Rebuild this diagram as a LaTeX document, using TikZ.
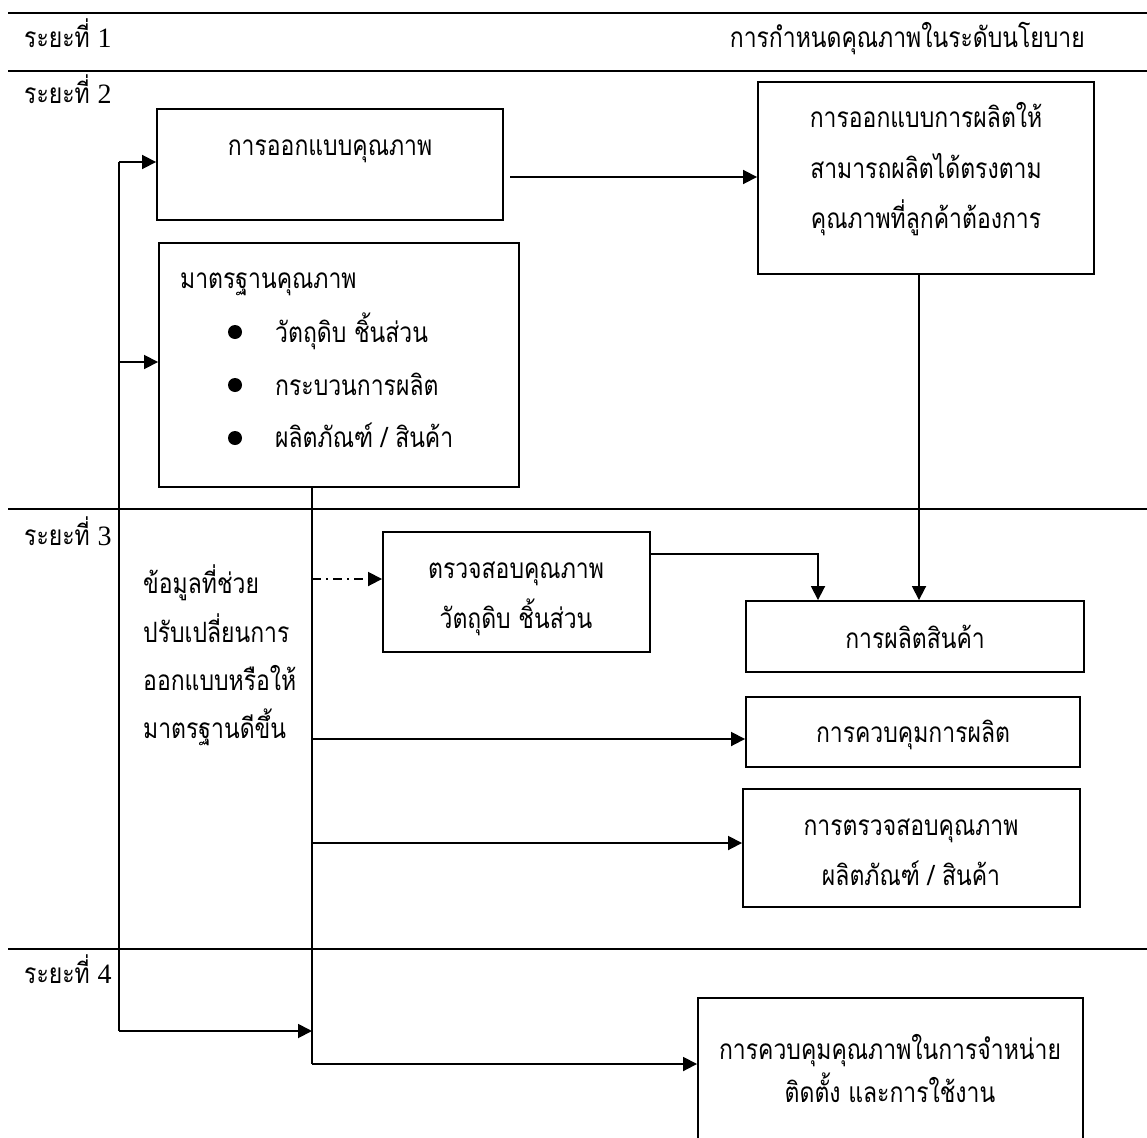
\documentclass[tikz,border=0pt]{standalone}
\usepackage{fontspec}
\setmainfont{Liberation Serif}
\newfontfamily\thai[Script=Thai,FakeStretch=0.82]{Loma}
\usetikzlibrary{arrows.meta}

\tikzset{
  box/.style={draw, rectangle, line width=1.9pt, inner sep=0pt},
  sep/.style={line width=2.8pt},
  conn/.style={line width=1.8pt},
  arr/.style={conn, -{Triangle[length=14pt,width=14pt]}},
  dashdotarr/.style={arr, dash pattern=on 9pt off 5pt on 2pt off 5pt},
  txt/.style={font=\thai\fontsize{28}{30}\selectfont, inner sep=0pt, anchor=base},
  ltxt/.style={txt, anchor=base west},
  bullet/.style={circle, fill, inner sep=0pt, minimum size=14pt},
}

\begin{document}
\begin{tikzpicture}[x=1pt, y=-1pt]
\useasboundingbox (0,0) rectangle (1147,1137);
\clip (0,0) rectangle (1147,1137);

% phase separators
\draw[sep] (8,13) -- (1147,13);
\draw[sep] (8,71) -- (1147,71);
\draw[sep] (8,509) -- (1147,509);
\draw[sep] (8,949) -- (1147,949);

% phase labels
\node[ltxt] (p1) at (24,48) {ระยะที่ \rmfamily 1};
\node[ltxt] (p2) at (24,104) {ระยะที่ \rmfamily 2};
\node[ltxt] (p3) at (24,545) {ระยะที่ \rmfamily 3};
\node[ltxt] (p4) at (24,983) {ระยะที่ \rmfamily 4};
\node[txt, anchor=base east] (policy) at (1085,48) {การกำหนดคุณภาพในระดับนโยบาย};

% boxes
\node[box, minimum width=346pt, minimum height=111pt] (A) at (330,164.5) {};
\node[box, minimum width=360pt, minimum height=244pt] (B) at (339,365) {};
\node[box, minimum width=336pt, minimum height=192pt] (C) at (926,178) {};
\node[box, minimum width=267pt, minimum height=120pt] (D) at (516.5,592) {};
\node[box, minimum width=338pt, minimum height=71pt]  (E) at (915,636.5) {};
\node[box, minimum width=334pt, minimum height=70pt]  (F) at (913,732) {};
\node[box, minimum width=337pt, minimum height=118pt] (G) at (911.5,848) {};
\node[box, minimum width=385pt, minimum height=182pt] (H) at (890.5,1089) {};

% box texts
\node[txt] (tA) at (330,155) {การออกแบบคุณภาพ};

\node[ltxt] (tB0) at (180,288) {มาตรฐานคุณภาพ};
\node[bullet] (b1) at (235,332) {};
\node[bullet] (b2) at (235,385) {};
\node[bullet] (b3) at (235,438) {};
\node[ltxt] (tB1) at (275,342) {วัตถุดิบ ชิ้นส่วน};
\node[ltxt] (tB2) at (275,395) {กระบวนการผลิต};
\node[ltxt] (tB3) at (275,447) {ผลิตภัณฑ์ / สินค้า};

\node[txt] (tC1) at (926,128) {การออกแบบการผลิตให้};
\node[txt] (tC2) at (926,178) {สามารถผลิตได้ตรงตาม};
\node[txt] (tC3) at (926,228) {คุณภาพที่ลูกค้าต้องการ};

\node[txt] (tD1) at (516,578) {ตรวจสอบคุณภาพ};
\node[txt] (tD2) at (516,628) {วัตถุดิบ ชิ้นส่วน};

\node[ltxt] (f1) at (143,593) {ข้อมูลที่ช่วย};
\node[ltxt] (f2) at (143,642) {ปรับเปลี่ยนการ};
\node[ltxt] (f3) at (143,690) {ออกแบบหรือให้};
\node[ltxt] (f4) at (143,738) {มาตรฐานดีขึ้น};

\node[txt] (tE) at (915,648) {การผลิตสินค้า};
\node[txt] (tF) at (913,742) {การควบคุมการผลิต};
\node[txt] (tG1) at (911,835) {การตรวจสอบคุณภาพ};
\node[txt] (tG2) at (911,885) {ผลิตภัณฑ์ / สินค้า};
\node[txt] (tH1) at (890,1059) {การควบคุมคุณภาพในการจำหน่าย};
\node[txt] (tH2) at (890,1102) {ติดตั้ง และการใช้งาน};

% junction points of the connectors
\coordinate (fa) at (119,162);
\coordinate (fbx) at (119,362);
\coordinate (fz) at (119,1031);
\coordinate (ac) at (510,177);
\coordinate (ce) at (919,400);
\coordinate (de) at (818,554);
\coordinate (dd) at (312,579);
\coordinate (va) at (312,487);
\coordinate (vf) at (312,739);
\coordinate (vg) at (312,843);
\coordinate (vh) at (312,1064);

% feedback trunk on the left
\draw[conn] (fa) -- (fz);
\draw[arr] (fa) -- (fa -| A.west);
\draw[arr] (fbx) -- (fbx -| B.west);
\draw[arr] (fz) -- (fz -| va);

% design flow
\draw[arr] (ac) -- (ac -| C.west);
\draw[arr] (C.south -| ce) -- (E.north -| ce);
\draw[arr] (D.east |- de) -- (de) -- (de |- E.north);

% standards trunk
\draw[conn] (B.south -| va) -- (vh);
\draw[dashdotarr] (dd) -- (dd -| D.west);
\draw[arr] (vf) -- (vf -| F.west);
\draw[arr] (vg) -- (vg -| G.west);
\draw[arr] (vh) -- (vh -| H.west);
\end{tikzpicture}
\end{document}
